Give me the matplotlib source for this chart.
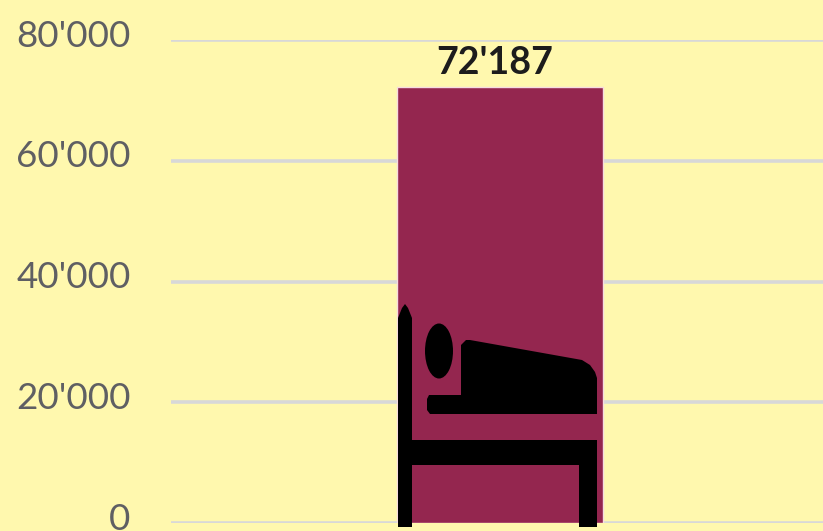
"""Single bar chart with a bed pictogram on top of the bar."""

import matplotlib

matplotlib.use("Agg")
import matplotlib.pyplot as plt
from matplotlib.patches import Ellipse, Polygon, Rectangle
from matplotlib.transforms import Affine2D, ScaledTranslation

WIDTH, HEIGHT = 823, 531

categories = [0]
values = [72187]
value_labels = ["72'187"]
tick_values = [0, 20000, 40000, 60000, 80000]
tick_labels = ["0", "20'000", "40'000", "60'000", "80'000"]

BACKGROUND = "#FFF8AE"
BAR_COLOR = "#94264F"
GRID_COLOR = "#D8D8D8"
TEXT_COLOR = "#5F5F63"

plt.rcParams["font.family"] = ["Lato", "DejaVu Sans"]

fig = plt.figure(figsize=(WIDTH / 100, HEIGHT / 100), dpi=100, facecolor=BACKGROUND)
ax = fig.add_axes([171 / WIDTH, 8 / HEIGHT, 652 / WIDTH, 483 / HEIGHT])
ax.set_facecolor(BACKGROUND)

ax.bar(categories, values, width=0.316, color=BAR_COLOR, edgecolor="#F6DCE0", linewidth=1, zorder=3)
ax.set_xlim(-0.5046, 0.4954)
ax.set_ylim(0, 80000)
ax.set_xticks([])
ax.set_yticks(tick_values, tick_labels)
ax.tick_params(axis="y", length=0, pad=29, labelsize=26.5, labelcolor=TEXT_COLOR)
ax.grid(axis="y", color=GRID_COLOR, linewidth=2.6, zorder=1)
ax.set_axisbelow(True)
for spine in ax.spines.values():
    spine.set_visible(False)

# labels sit a little above their gridlines in the reference
lift = ScaledTranslation(0, 5 / 72, fig.dpi_scale_trans)
for label in ax.get_yticklabels():
    label.set_transform(label.get_transform() + lift)

for x, value, label in zip(categories, values, value_labels):
    ax.annotate(
        label,
        (x, value),
        xytext=(-4, 5),
        textcoords="offset points",
        ha="center",
        va="bottom",
        fontsize=27,
        fontweight="bold",
        color="#1C1C1C",
        zorder=5,
    )

# bed icon, laid out in image pixels (y down)
px = Affine2D().scale(1, -1).translate(0, HEIGHT)
icon = [
    Polygon([(398, 527), (398, 318), (402, 308), (405, 304), (408, 308), (412, 318), (412, 527)]),
    Rectangle((398, 440), 199, 25),
    Rectangle((579, 440), 18, 87),
    Ellipse((439, 351), 28, 55),
    Polygon(
        [
            (427, 399),
            (429, 395),
            (461, 395),
            (461, 345),
            (466, 340),
            (470, 340),
            (582, 360),
            (590, 365),
            (595, 372),
            (597, 378),
            (597, 414),
            (430, 414),
            (427, 410),
        ]
    ),
]
for patch in icon:
    patch.set(facecolor="black", edgecolor="none", transform=px, clip_on=False, zorder=4)
    ax.add_artist(patch)

fig.savefig("out.png", dpi=100, facecolor=BACKGROUND)
